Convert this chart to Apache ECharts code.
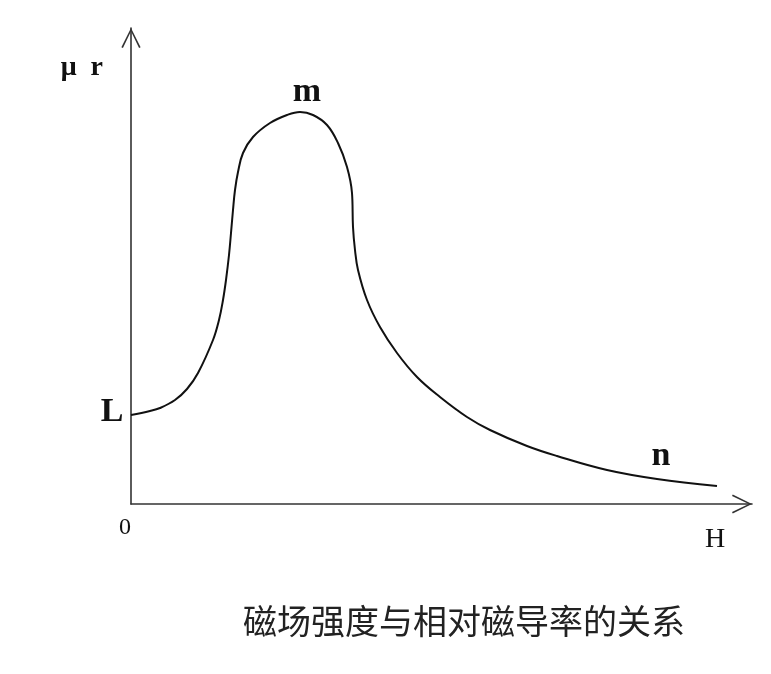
<!DOCTYPE html>
<html>
<head>
<meta charset="utf-8">
<script src="https://cdn.jsdelivr.net/npm/echarts@6/dist/echarts.min.js"></script>
<style>
html,body{margin:0;padding:0;background:#fff;}
#chart{width:771px;height:674px;}
</style>
</head>
<body>
<div id="chart"></div>
<script>
// H (field strength, arbitrary units) and relative permeability μr (arbitrary units)
const hValues  = [0, 1.9, 2.9, 4.4, 5.6, 6.7, 8.2, 8.8, 9.2, 9.5, 9.8, 10.0, 10.2, 10.4, 10.7, 11.2, 12.2, 13.9, 15.6, 16.9, 18.2, 19.6, 20.7, 21.6, 22.1, 22.2, 22.4, 22.7, 23.6, 24.9, 26.6, 28.6, 30.9, 33.6, 35.9, 39.6, 42.6, 47.6, 52.6, 58.6];
const muValues = [8.9, 9.3, 9.6, 10.4, 11.5, 13.1, 16.4, 18.4, 20.4, 22.4, 24.9, 27.1, 29.4, 31.4, 33.2, 35.1, 36.7, 38.1, 38.9, 39.2, 38.9, 37.9, 36.1, 33.7, 31.1, 27.7, 25.4, 23.4, 20.4, 17.7, 15.1, 12.7, 10.7, 8.7, 7.4, 5.8, 4.8, 3.4, 2.5, 1.8];
const pointLabels = {0: 'L', 19: 'm', 38: 'n'};
const xName = 'H';
const yName = 'μ  r';
const caption = '磁场强度与相对磁导率的关系';

const serif = "'Liberation Serif','DejaVu Serif',serif";
const chevron = 'path://M0,20 L10,0 L20,20 L18.4,20.8 L10,3.4 L1.6,20.8 Z';

const labelStyles = {
  L: {position: 'left', distance: 7, offset: [0, -3]},
  m: {position: 'top', distance: 2, offset: [7, 0]},
  n: {position: 'top', distance: 5, offset: [4, 0]}
};

const seriesData = hValues.map((h, i) => {
  const item = {value: [h, muValues[i]]};
  const t = pointLabels[i];
  if (t) {
    item.label = Object.assign({
      show: true,
      formatter: t,
      fontFamily: serif,
      fontSize: 34,
      fontWeight: 'bold',
      color: '#111'
    }, labelStyles[t]);
  }
  return item;
});

const chart = echarts.init(document.getElementById('chart'), null, {renderer: 'canvas'});
chart.setOption({
  backgroundColor: '#ffffff',
  animation: false,
  title: {
    text: caption,
    left: 238,
    top: 599,
    textStyle: {
      fontFamily: "'Noto Sans CJK SC',sans-serif",
      fontSize: 34,
      fontWeight: 'normal',
      color: '#222'
    }
  },
  grid: {left: 131, top: 28, right: 19, bottom: 170, containLabel: false},
  xAxis: {
    type: 'value',
    min: 0,
    max: 62.1,
    interval: 10,
    name: xName,
    nameLocation: 'end',
    nameGap: -37,
    nameTextStyle: {
      fontFamily: serif,
      fontSize: 28,
      color: '#111',
      align: 'center',
      verticalAlign: 'top',
      padding: [22, 0, 0, 0]
    },
    axisLine: {
      show: true,
      symbol: ['none', chevron],
      symbolSize: [20, 20],
      symbolOffset: [0, -10],
      lineStyle: {color: '#333', width: 1.6}
    },
    axisTick: {show: false},
    splitLine: {show: false},
    axisLabel: {
      show: true,
      margin: 12,
      fontFamily: serif,
      fontSize: 24,
      color: '#111',
      padding: [0, 12, 0, 0],
      formatter: v => (v === 0 ? '0' : '')
    }
  },
  yAxis: {
    type: 'value',
    min: 0,
    max: 47.6,
    interval: 10,
    name: yName,
    nameLocation: 'end',
    nameGap: -40,
    nameTextStyle: {
      fontFamily: serif,
      fontSize: 28,
      fontWeight: 'bold',
      color: '#111',
      align: 'right',
      verticalAlign: 'middle',
      padding: [0, 28, 0, 0]
    },
    axisLine: {
      show: true,
      symbol: ['none', chevron],
      symbolSize: [20, 20],
      symbolOffset: [0, -10],
      lineStyle: {color: '#333', width: 1.6}
    },
    axisTick: {show: false},
    splitLine: {show: false},
    axisLabel: {show: false}
  },
  series: [{
    type: 'line',
    data: seriesData,
    smooth: 0.4,
    showSymbol: true,
    symbol: 'circle',
    symbolSize: 1,
    lineStyle: {color: '#111', width: 2},
    itemStyle: {color: 'rgba(0,0,0,0)'},
    emphasis: {disabled: true},
    z: 3
  }]
});
</script>
</body>
</html>
